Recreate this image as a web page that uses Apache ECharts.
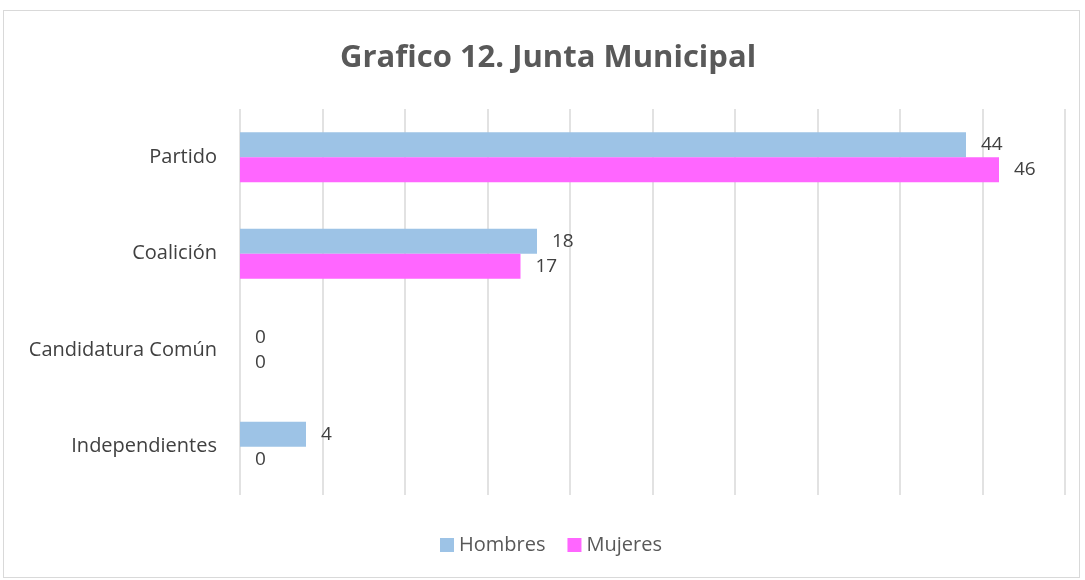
<!DOCTYPE html>
<html>
<head>
<meta charset="utf-8">
<script src="https://cdn.jsdelivr.net/npm/echarts@6/dist/echarts.min.js"></script>
<style>
  html, body { margin: 0; padding: 0; background: #fff; }
  #frame {
    position: absolute; left: 3px; top: 10px; width: 1077px; height: 568px;
    border: 1px solid #d9d9d9; box-sizing: border-box;
  }
  #chart { position: absolute; left: 0; top: 0; width: 1085px; height: 580px; }
</style>
</head>
<body>
<div id="frame"></div>
<div id="chart"></div>
<script>
  // categorias (de arriba hacia abajo)
  const categorias = ["Partido", "Coalición", "Candidatura Común", "Independientes"];
  const hombres = [44, 18, 0, 4];
  const mujeres = [46, 17, 0, 0];

  const chart = echarts.init(document.getElementById("chart"));
  const labelStyle = {
    show: true,
    position: "right",
    distance: 15,
    color: "#404040",
    fontSize: 19,
    fontFamily: "Open Sans"
  };

  chart.setOption({
    animation: false,
    title: {
      text: "Grafico 12. Junta Municipal",
      left: 335,
      top: 38,
      textStyle: { color: "#595959", fontSize: 31, fontWeight: "bold", fontFamily: "Open Sans" }
    },
    legend: {
      data: ["Hombres", "Mujeres"],
      bottom: 20,
      left: 435,
      itemWidth: 14,
      itemHeight: 14,
      itemGap: 22,
      icon: "rect",
      textStyle: { color: "#595959", fontSize: 20, fontFamily: "Open Sans" }
    },
    grid: { left: 240, right: 20, top: 109, bottom: 85, containLabel: false },
    xAxis: {
      type: "value",
      min: 0,
      max: 50,
      interval: 5,
      axisLabel: { show: false },
      axisLine: { show: false },
      axisTick: { show: false },
      splitLine: { lineStyle: { color: "#d9d9d9", width: 1.5 } }
    },
    yAxis: {
      type: "category",
      inverse: true,
      data: categorias,
      axisLine: { show: false },
      axisTick: { show: false },
      axisLabel: { color: "#404040", fontSize: 20, margin: 23, fontFamily: "Open Sans" }
    },
    series: [
      {
        name: "Hombres",
        type: "bar",
        data: hombres,
        barWidth: 25,
        barGap: "0%",
        itemStyle: { color: "#9dc3e6" },
        label: labelStyle
      },
      {
        name: "Mujeres",
        type: "bar",
        data: mujeres,
        barWidth: 25,
        itemStyle: { color: "#ff66ff" },
        label: labelStyle
      }
    ]
  });
</script>
</body>
</html>
